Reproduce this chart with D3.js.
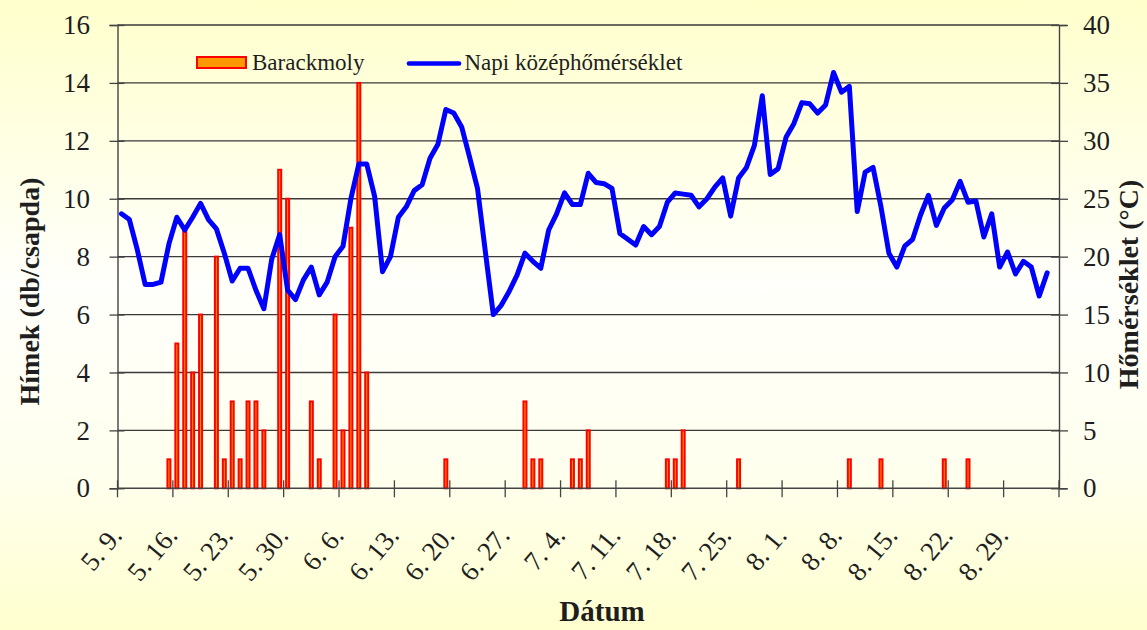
<!DOCTYPE html>
<html>
<head>
<meta charset="utf-8">
<script src="https://cdn.jsdelivr.net/npm/d3@7"></script>
<style>
  html, body { margin: 0; padding: 0; background: #fff; }
  svg { display: block; }
  text { font-family: "Liberation Serif", "Times New Roman", serif; fill: #1e1e1e; }
</style>
</head>
<body>
<script>
// ---- DATA ----
const startDate = new Date(2000, 4, 9);   // 5.9.
const nCategories = 119;                   // 5.9. ... 9.4.
const tickLabels = ["5. 9.", "5. 16.", "5. 23.", "5. 30.", "6. 6.", "6. 13.", "6. 20.", "6. 27.",
  "7. 4.", "7. 11.", "7. 18.", "7. 25.", "8. 1.", "8. 8.", "8. 15.", "8. 22.", "8. 29."];

// Barackmoly (hímek, db/csapda) — daily counts
const mothCounts = [
  0, 0, 0, 0, 0, 0, 1, 5, 9, 4,
  6, 0, 8, 1, 3, 1, 3, 3, 2, 0,
  11, 10, 0, 0, 3, 1, 0, 6, 2, 9,
  14, 4, 0, 0, 0, 0, 0, 0, 0, 0,
  0, 1, 0, 0, 0, 0, 0, 0, 0, 0,
  0, 3, 1, 1, 0, 0, 0, 1, 1, 2,
  0, 0, 0, 0, 0, 0, 0, 0, 0, 1,
  1, 2, 0, 0, 0, 0, 0, 0, 1, 0,
  0, 0, 0, 0, 0, 0, 0, 0, 0, 0,
  0, 0, 1, 0, 0, 0, 1, 0, 0, 0,
  0, 0, 0, 0, 1, 0, 0, 1, 0, 0,
  0, 0, 0, 0, 0, 0, 0, 0
];

// Napi középhőmérséklet (°C)
const dailyTemp = [
  23.7, 23.2, 20.6, 17.6, 17.6, 17.8, 21.1, 23.4, 22.3, 23.4,
  24.6, 23.2, 22.4, 20.3, 17.9, 19.0, 19.0, 17.1, 15.5, 19.8,
  21.9, 17.1, 16.3, 18.0, 19.1, 16.7, 17.8, 20.0, 20.9, 25.0,
  28.0, 28.0, 25.2, 18.7, 20.0, 23.4, 24.3, 25.7, 26.2, 28.5,
  29.7, 32.7, 32.4, 31.2, 28.6, 25.9, 20.4, 15.0, 15.8, 17.0,
  18.4, 20.3, 19.6, 19.0, 22.3, 23.7, 25.5, 24.5, 24.5, 27.2,
  26.4, 26.3, 25.9, 22.0, 21.5, 21.0, 22.6, 21.9, 22.6, 24.7,
  25.5, 25.4, 25.3, 24.3, 25.0, 26.0, 26.8, 23.5, 26.8, 27.7,
  29.6, 33.9, 27.1, 27.6, 30.3, 31.5, 33.3, 33.2, 32.4, 33.1,
  35.9, 34.2, 34.7, 23.9, 27.3, 27.7, 24.3, 20.3, 19.1, 20.9,
  21.5, 23.6, 25.3, 22.7, 24.2, 24.9, 26.5, 24.7, 24.8, 21.7,
  23.7, 19.1, 20.4, 18.5, 19.6, 19.1, 16.6, 18.6
];

const leftTicks = [0, 2, 4, 6, 8, 10, 12, 14, 16];
const rightTicks = [0, 5, 10, 15, 20, 25, 30, 35, 40];
const seriesNames = ["Barackmoly", "Napi középhőmérséklet"];
const leftTitle = "Hímek (db/csapda)";
const rightTitle = "Hőmérséklet (°C)";
const xTitle = "Dátum";

// ---- LAYOUT ----
const W = 1147, H = 630;
const L = 117.5, R = 1059, T = 25, B = 488.3;

const svg = d3.select("body").append("svg").attr("width", W).attr("height", H);
const defs = svg.append("defs");
const bg = defs.append("linearGradient").attr("id", "bg").attr("x1", 0).attr("y1", 0).attr("x2", 0).attr("y2", 1);
bg.append("stop").attr("offset", "0%").attr("stop-color", "#FFFFCC");
bg.append("stop").attr("offset", "45%").attr("stop-color", "#FFFFFB");
bg.append("stop").attr("offset", "75%").attr("stop-color", "#FFFFEE");
bg.append("stop").attr("offset", "100%").attr("stop-color", "#FFFFCF");
svg.append("rect").attr("width", W).attr("height", H).attr("fill", "url(#bg)");

const x = d3.scaleBand().domain(d3.range(nCategories)).range([L, R]).paddingInner(0).paddingOuter(0);
const yL = d3.scaleLinear().domain([0, 16]).range([B, T]);
const yR = d3.scaleLinear().domain([0, 40]).range([B, T]);

// gridlines
svg.append("g").selectAll("line").data(leftTicks.filter(v => v > 0)).join("line")
  .attr("x1", L).attr("x2", R).attr("y1", d => yL(d)).attr("y2", d => yL(d))
  .attr("stroke", "#3a3a3a").attr("stroke-width", 1.3);

// bars
const bw = 3;
svg.append("g").selectAll("rect").data(mothCounts.map((v, i) => ({ v, i })).filter(d => d.v > 0)).join("rect")
  .attr("x", d => x(d.i) + x.bandwidth() / 2 - bw / 2)
  .attr("y", d => yL(d.v))
  .attr("width", bw)
  .attr("height", d => yL(0) - yL(d.v))
  .attr("fill", "#FF9900").attr("stroke", "#FF0000").attr("stroke-width", 2);

// line
const line = d3.line().x((d, i) => x(i) + x.bandwidth() / 2).y(d => yR(d));
svg.append("path").datum(dailyTemp).attr("d", line)
  .attr("fill", "none").attr("stroke", "#0000FF").attr("stroke-width", 5)
  .attr("stroke-linejoin", "round").attr("stroke-linecap", "round");

// axes
const axisColor = "#444";
const gL = svg.append("g").attr("transform", `translate(${L},0)`)
  .call(d3.axisLeft(yL).tickValues(leftTicks).tickSize(8).tickFormat(d3.format("d")));
gL.select(".domain").attr("stroke", axisColor).attr("stroke-width", 1.4);
gL.selectAll(".tick line").attr("x1", 7).attr("x2", -8).attr("stroke", axisColor).attr("stroke-width", 1.3);
gL.selectAll(".tick text").attr("x", -27.5).style("font-size", "27px").style("font-family", "Liberation Serif").attr("fill", "#1e1e1e");

const gR = svg.append("g").attr("transform", `translate(${R},0)`)
  .call(d3.axisRight(yR).tickValues(rightTicks).tickSize(8).tickFormat(d3.format("d")));
gR.select(".domain").attr("stroke", axisColor).attr("stroke-width", 1.4);
gR.selectAll(".tick line").attr("x1", -8).attr("x2", 9).attr("stroke", axisColor).attr("stroke-width", 1.3);
gR.selectAll(".tick text").attr("x", 24).style("font-size", "27px").style("font-family", "Liberation Serif").attr("fill", "#1e1e1e");

// x axis
const gX = svg.append("g");
gX.append("line").attr("x1", L).attr("x2", R).attr("y1", B).attr("y2", B).attr("stroke", axisColor).attr("stroke-width", 1.4);
const tickIdx = d3.range(0, nCategories + 1, 7);
gX.selectAll("line.tk").data(tickIdx).join("line").attr("class", "tk")
  .attr("x1", d => d < nCategories ? x(d) : R).attr("x2", d => d < nCategories ? x(d) : R)
  .attr("y1", B - 8).attr("y2", B + 9).attr("stroke", axisColor).attr("stroke-width", 1.3);
gX.selectAll("text").data(tickLabels).join("text")
  .attr("transform", (d, j) => `translate(${x(j * 7) + x.bandwidth() / 2 + 2},${B + 48}) rotate(-50)`)
  .attr("text-anchor", "end")
  .style("font-size", "27px")
  .text(d => d);

// titles
svg.append("text").attr("transform", `translate(39,${(173 + 410) / 2}) rotate(-90)`)
  .attr("text-anchor", "middle").style("font-size", "28px").style("font-weight", "bold").text(leftTitle);
svg.append("text").attr("transform", `translate(1138,${(177 + 392) / 2}) rotate(-90)`)
  .attr("text-anchor", "middle").style("font-size", "28px").style("font-weight", "bold").text(rightTitle);
svg.append("text").attr("x", 602).attr("y", 621).attr("text-anchor", "middle")
  .style("font-size", "29px").style("font-weight", "bold").text(xTitle);

// legend
const lg = svg.append("g");
lg.append("rect").attr("x", 197).attr("y", 57).attr("width", 49).attr("height", 11)
  .attr("fill", "#FF9900").attr("stroke", "#FF0000").attr("stroke-width", 2);
lg.append("text").attr("x", 252).attr("y", 70).style("font-size", "23px").text(seriesNames[0]);
lg.append("line").attr("x1", 409).attr("x2", 459).attr("y1", 63.5).attr("y2", 63.5)
  .attr("stroke", "#0000FF").attr("stroke-width", 4.6).attr("stroke-linecap", "round");
lg.append("text").attr("x", 464.5).attr("y", 70).style("font-size", "23px").text(seriesNames[1]);
</script>
</body>
</html>
